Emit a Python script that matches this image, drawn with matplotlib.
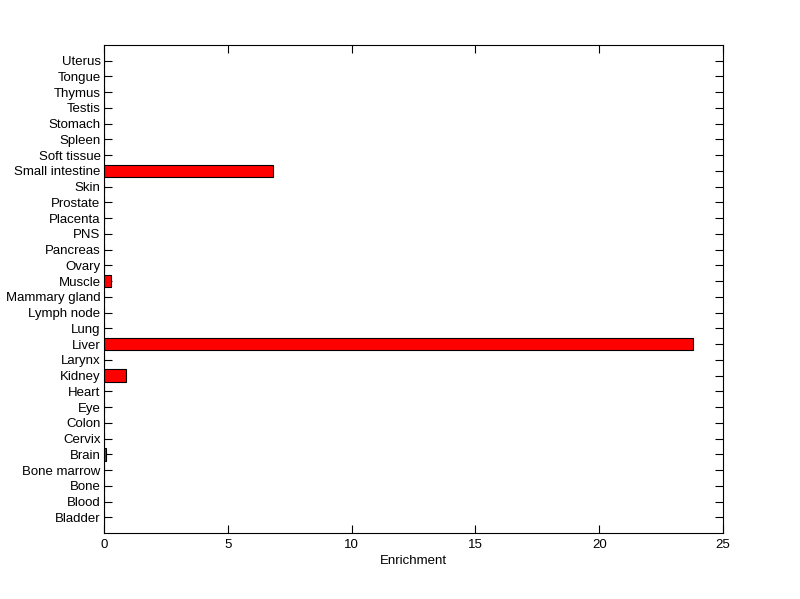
import matplotlib
matplotlib.use("Agg")
import matplotlib.pyplot as plt

tissues = ["Bladder", "Blood", "Bone", "Bone marrow", "Brain", "Cervix", "Colon", "Eye",
           "Heart", "Kidney", "Larynx", "Liver", "Lung", "Lymph node", "Mammary gland",
           "Muscle", "Ovary", "Pancreas", "PNS", "Placenta", "Prostate", "Skin",
           "Small intestine", "Soft tissue", "Spleen", "Stomach", "Testis", "Thymus",
           "Tongue", "Uterus"]
enrichment = [0, 0, 0, 0, 0.08, 0, 0, 0,
              0, 0.89, 0, 23.8, 0, 0, 0,
              0.28, 0, 0, 0, 0, 0, 0,
              6.83, 0, 0, 0, 0, 0,
              0, 0]
xticks = [0, 5, 10, 15, 20, 25]

plt.rcParams['font.family'] = ['Liberation Sans', 'DejaVu Sans']
fig = plt.figure(figsize=(8, 5.99), dpi=100)
ax = fig.add_axes([0.13, 0.11, 0.77375, 0.815])
ax.set_axisbelow(True)
pos = list(range(1, len(tissues) + 1))
ax.barh(pos, enrichment, height=0.8, color='#ff0000', edgecolor='black', linewidth=0.8, zorder=2)
ax.set_ylim(0, len(tissues) + 1)
ax.set_xlim(0, 25)
ax.set_yticks(pos)
ax.set_yticklabels(tissues, fontsize=9.5)
ax.set_xticks(xticks)
ax.set_xticklabels([str(t) for t in xticks], fontsize=9.5)
ax.set_xlabel("Enrichment", fontsize=9.5, labelpad=3)
ax.tick_params(axis='y', direction='in', length=6, width=0.8, right=True, pad=2.5)
ax.tick_params(axis='x', direction='in', length=6, width=0.8, top=True, pad=4)
for s in ax.spines.values():
    s.set_linewidth(0.8)
    s.set_zorder(3)
fig.savefig("out.png", dpi=100)
